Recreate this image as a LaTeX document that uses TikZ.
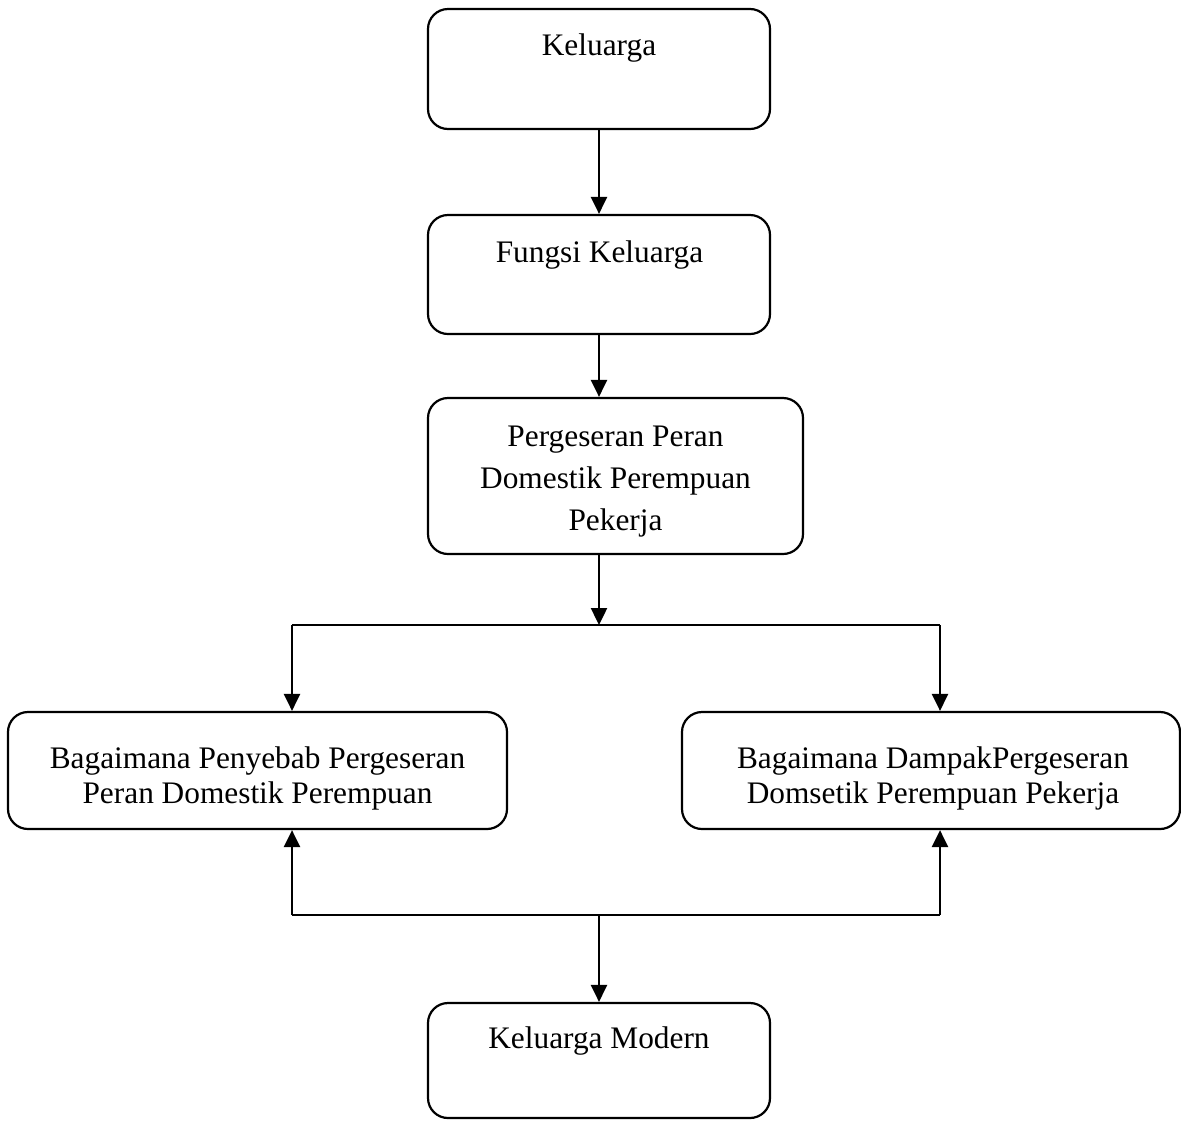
\documentclass[tikz,border=0pt]{standalone}
\usepackage{fontspec}
\setmainfont{Liberation Serif}
\usetikzlibrary{arrows.meta}
\tikzset{
  box/.style={draw, line width=1.1pt, rounded corners=10pt, inner sep=0pt},
  lbl/.style={inner sep=0pt, font=\fontsize{15.67}{21}\selectfont},
  lbl2/.style={inner sep=0pt, align=center, font=\fontsize{15.67}{17.5}\selectfont},
  lbl3/.style={inner sep=0pt, align=center, font=\fontsize{15.67}{21}\selectfont},
  conn/.style={line width=0.9pt},
  arr/.style={line width=1.2pt, -{Triangle[length=8.5pt,width=8pt]}}
}
\begin{document}
\begin{tikzpicture}[x=0.5pt, y=-0.5pt]
\useasboundingbox (0,0) rectangle (1181,1120);
% boxes
\node[box, minimum width=171pt, minimum height=60pt] (b1) at (599,69) {};
\node[box, minimum width=171pt, minimum height=59.5pt] (b2) at (599,274.5) {};
\node[box, minimum width=187.5pt, minimum height=78pt] (b3) at (615.5,476) {};
\node[box, minimum width=249.5pt, minimum height=58.5pt] (bL) at (257.5,770.5) {};
\node[box, minimum width=249pt, minimum height=58.5pt] (bR) at (931,770.5) {};
\node[box, minimum width=171pt, minimum height=57.5pt] (b6) at (599,1060.5) {};
% texts
\node[lbl, anchor=base] (t1) at (599,55) {Keluarga};
\node[lbl, anchor=base] (t2) at (599.5,262) {Fungsi Keluarga};
\node[lbl3, anchor=center] (t3) at (615.5,482) {Pergeseran Peran\\Domestik Perempuan\\Pekerja};
\node[lbl2, anchor=center] (tL) at (257.5,778) {Bagaimana Penyebab Pergeseran\\Peran Domestik Perempuan};
\node[lbl2, anchor=center] (tR) at (933,778) {Bagaimana DampakPergeseran\\Domsetik Perempuan Pekerja};
\node[lbl, anchor=base] (t6) at (599,1048) {Keluarga Modern};
% junction coordinates
\coordinate (jtop) at (599,625);
\coordinate (tl) at (292,625);
\coordinate (tr) at (940,625);
\coordinate (bl) at (292,915);
\coordinate (br) at (940,915);
\coordinate (jbot) at (599,915);
% connectors
\draw[arr] (b1.south) -- (b2.north);
\draw[arr] (b2.south) -- (b2.south |- b3.north);
\draw[arr] (b2.south |- b3.south) -- (jtop);
\draw[conn] (tl) -- (tr);
\draw[arr] (tl) -- (tl |- bL.north);
\draw[arr] (tr) -- (tr |- bR.north);
\draw[conn] (bl) -- (br);
\draw[arr] (bl) -- (bl |- bL.south);
\draw[arr] (br) -- (br |- bR.south);
\draw[arr] (jbot) -- (b6.north);
\end{tikzpicture}
\end{document}
